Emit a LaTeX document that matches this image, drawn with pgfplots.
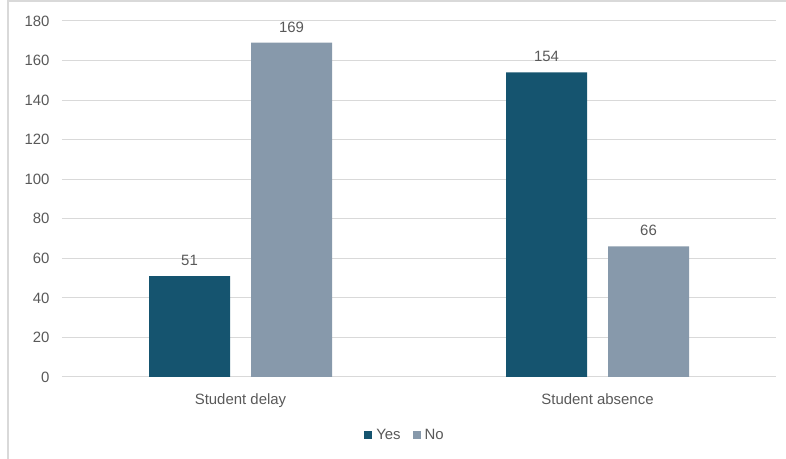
\documentclass[border=0pt]{standalone}
\usepackage{fontspec}
\setmainfont{Liberation Sans}
\usepackage{pgfplots}
\pgfplotsset{compat=1.18}
\definecolor{yesc}{HTML}{15546F}
\definecolor{noc}{HTML}{8799AB}
\definecolor{txt}{HTML}{595959}
\definecolor{grd}{HTML}{D9D9D9}
\begin{document}
\begin{tikzpicture}[x=1bp,y=1bp]
\useasboundingbox (-62,-82) rectangle (724,377);
\draw[grd, line width=1.2bp] (-54,-90) -- (-54,376) -- (740,376);
\begin{axis}[
  at={(0,0)}, anchor=south west,
  scale only axis, width=714bp, height=356bp,
  ymin=0, ymax=180, ytick={0,20,...,180},
  xmin=-0.5, xmax=1.5, xtick={0,1},
  xticklabels={Student delay, Student absence},
  ybar=21bp, bar width=81bp,
  ymajorgrids, grid style={grd, line width=1bp},
  axis line style={draw=none}, major tick length=0pt,
  tick label style={font=\fontsize{15}{17}\selectfont, text=txt},
  /pgf/number format/assume math mode=true,
  yticklabel style={xshift=-9bp},
  xticklabel style={yshift=-13bp},
  nodes near coords,
  nodes near coords style={font=\fontsize{15}{17}\selectfont, text=txt, yshift=7bp},
  legend style={at={(0.4804,-0.163)}, anchor=center, draw=none, fill=none,
    legend columns=2, font=\fontsize{15}{17}\selectfont, text=txt,
    /tikz/every even column/.append style={column sep=10bp},
    /tikz/every odd column/.append style={column sep=2bp}},
  legend image code/.code={\fill[#1] (0bp,-4bp) rectangle (8bp,4bp);},
]
\addplot[draw=none, fill=yesc] coordinates {(0,51) (1,154)};
\addplot[draw=none, fill=noc] coordinates {(0,169) (1,66)};
\legend{Yes, No}
\end{axis}
\end{tikzpicture}
\end{document}
